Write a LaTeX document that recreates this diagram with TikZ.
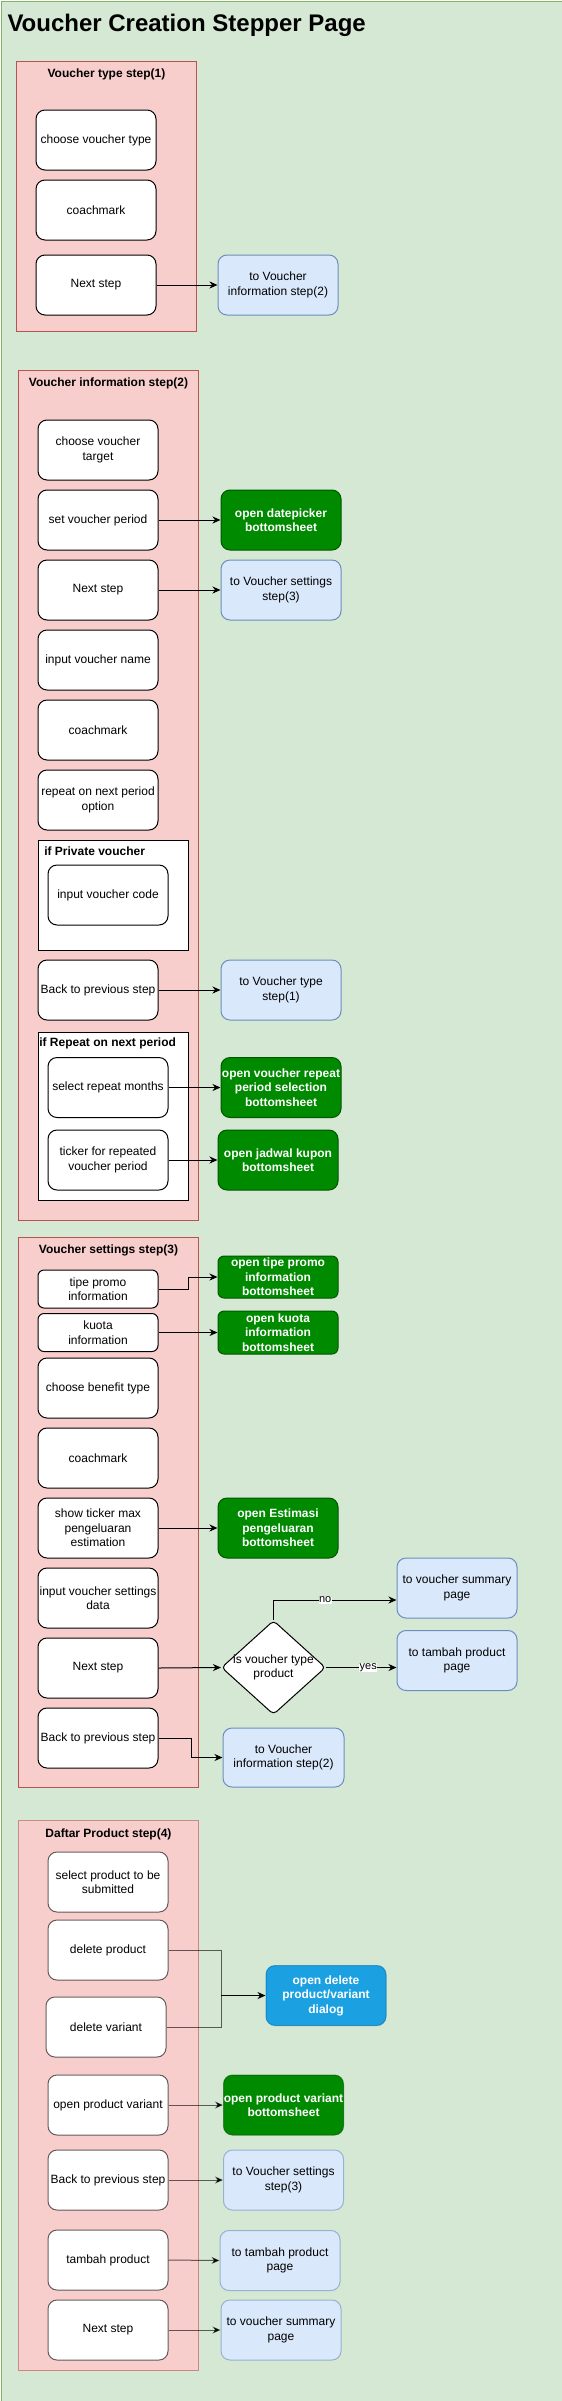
\documentclass[tikz,border=0pt]{standalone}
\usepackage{fontspec}
\setmainfont{Liberation Sans}
\usetikzlibrary{arrows.meta,shapes.geometric}
\definecolor{bggreen}{HTML}{D5E8D4}
\definecolor{bgline}{HTML}{82B366}
\definecolor{pinkfill}{HTML}{F8CECC}
\definecolor{pinkline}{HTML}{B85450}
\definecolor{bluefill}{HTML}{DAE8FC}
\definecolor{blueline}{HTML}{6C8EBF}
\definecolor{gfill}{HTML}{008A00}
\definecolor{gline}{HTML}{005700}
\definecolor{dfill}{HTML}{1BA1E2}
\definecolor{dline}{HTML}{006EAF}
\begin{document}
\begin{tikzpicture}[x=1pt,y=-1pt,line width=1pt,
  base/.style={rectangle,rounded corners=9pt,minimum width=120pt,minimum height=60pt,inner sep=0pt,align=center,font=\fontsize{12}{14.4}\selectfont},
  wbox/.style={base,draw=black,fill=white},
  bbox/.style={base,draw=blueline,fill=bluefill},
  gbox/.style={base,draw=gline,fill=gfill,text=white,font=\fontsize{12}{14.4}\selectfont\bfseries},
  dbox/.style={base,draw=dline,fill=dfill,text=white,font=\fontsize{12}{14.4}\selectfont\bfseries},
  pinkbox/.style={rectangle,draw=pinkline,fill=pinkfill,minimum width=180pt,anchor=north west,inner sep=0pt},
  frame/.style={rectangle,draw=black,fill=white,minimum width=150pt,anchor=north west,inner sep=0pt},
  steptitle/.style={font=\fontsize{12}{14.4}\selectfont\bfseries,inner sep=0pt},
  frametitle/.style={font=\fontsize{12}{14.4}\selectfont\bfseries,inner sep=0pt,anchor=west},
  arr/.style={-{Stealth[length=8pt,width=7pt,inset=2.5pt]}},
  elabel/.style={fill=white,inner sep=0.5pt,font=\fontsize{11}{13}\selectfont},
  sfour/.style={draw opacity=0.6},
]
\useasboundingbox (0,0) rectangle (562,2401);
\node[rectangle,draw=bgline,fill=bggreen,minimum width=561pt,minimum height=2400pt,anchor=north west,inner sep=0pt] (page) at (0.5,0.5) {};
\node[anchor=base west,inner sep=0pt,font=\fontsize{24}{28}\selectfont\bfseries] (title) at (7,31.7) {Voucher Creation Stepper Page};

% ---------- step 1 ----------
\node[pinkbox,minimum height=270pt] (s1) at (16,61) {};
\node[steptitle] (s1t) at (106.5,74) {Voucher type step(1)};
\node[wbox] (v1a) at (96,140) {choose voucher type};
\node[wbox] (v1b) at (96,210) {coachmark};
\node[wbox] (v1c) at (96,285) {Next step};
\node[bbox] (b1c) at (278,285) {to Voucher\\information step(2)};
\draw[arr] (v1c.east) -- (b1c.west);

% ---------- step 2 ----------
\node[pinkbox,minimum height=850pt] (s2) at (18,370) {};
\node[steptitle] (s2t) at (108.5,383.7) {Voucher information step(2)};
\node[wbox] (v2a) at (98,450) {choose voucher\\target};
\node[wbox] (v2b) at (98,520) {set voucher period};
\node[gbox] (g2b) at (281,520) {open datepicker\\bottomsheet};
\node[wbox] (v2c) at (98,590) {Next step};
\node[bbox] (b2c) at (281,590) {to Voucher settings\\step(3)};
\node[wbox] (v2d) at (98,660) {input voucher name};
\node[wbox] (v2e) at (98,730) {coachmark};
\node[wbox] (v2f) at (98,800) {repeat on next period\\option};
\node[frame,minimum height=110pt] (fpriv) at (38,840) {};
\node[frametitle] (fprivt) at (43.8,851.7) {if Private voucher};
\node[wbox] (v2g) at (108,895) {input voucher code};
\node[wbox] (v2h) at (98,990) {Back to previous step};
\node[bbox] (b2h) at (281,990) {to Voucher type\\step(1)};
\node[frame,minimum height=168pt] (frep) at (38,1032) {};
\node[frametitle] (frept) at (38.8,1043.7) {if Repeat on next period};
\node[wbox] (v2i) at (108,1087.5) {select repeat months};
\node[gbox] (g2i) at (281,1087.5) {open voucher repeat\\period selection\\bottomsheet};
\node[wbox] (v2j) at (108,1160) {ticker for repeated\\voucher period};
\node[gbox] (g2j) at (278,1160) {open jadwal kupon\\bottomsheet};
\draw[arr] (v2b.east) -- (g2b.west);
\draw[arr] (v2c.east) -- (b2c.west);
\draw[arr] (v2h.east) -- (b2h.west);
\draw[arr] (v2i.east) -- (g2i.west);
\draw[arr] (v2j.east) -- (g2j.west);

% ---------- step 3 ----------
\node[pinkbox,minimum height=550pt] (s3) at (18,1237) {};
\node[steptitle] (s3t) at (108.5,1250.6) {Voucher settings step(3)};
\node[wbox,minimum height=38pt,rounded corners=6pt] (v3a) at (98,1289) {tipe promo\\information};
\node[gbox,minimum height=42pt,rounded corners=6pt] (g3a) at (278,1277) {open tipe promo\\information\\bottomsheet};
\node[wbox,minimum height=38pt,rounded corners=6pt] (v3b) at (98,1332.5) {kuota\\information};
\node[gbox,minimum height=43pt,rounded corners=6pt] (g3b) at (278,1332.5) {open kuota\\information\\bottomsheet};
\node[wbox] (v3c) at (98,1388) {choose benefit type};
\node[wbox] (v3d) at (98,1458) {coachmark};
\node[wbox] (v3e) at (98,1528) {show ticker max\\pengeluaran\\estimation};
\node[gbox] (g3e) at (278,1528) {open Estimasi\\pengeluaran\\bottomsheet};
\node[wbox] (v3f) at (98,1598) {input voucher settings\\data};
\node[wbox] (v3g) at (98,1668) {Next step};
\node[diamond,draw=black,fill=white,minimum width=104pt,minimum height=94pt,inner sep=0pt,rounded corners=4pt] (dec) at (273.5,1667.5) {};
\node[align=center,inner sep=0pt,font=\fontsize{12}{14.4}\selectfont] (dect) at (dec.center) {is voucher type\\product};
\node[bbox] (bsum) at (457,1588) {to voucher summary\\page};
\node[bbox] (btam) at (457,1660.5) {to tambah product\\page};
\node[wbox] (v3h) at (98,1738) {Back to previous step};
\node[bbox,minimum width=121pt,minimum height=59pt] (b3h) at (283.5,1757.5) {to Voucher\\information step(2)};
\draw[arr] (v3a.east) -- ++(30,0) |- (g3a.west);
\draw[arr] (v3b.east) -- (g3b.west);
\draw[arr] (v3e.east) -- (g3e.west);
\draw[arr] (v3g.east) -- (dec.west);
\draw[arr] (dec.north) |- node[elabel,pos=0.71] {no} ([yshift=-12pt]bsum.west);
\draw[arr] (dec.east) -- node[elabel,pos=0.6] {yes} (dec.east -| btam.west);
\draw[arr] (v3h.east) -- ++(32.7,0) |- (b3h.west);

% ---------- step 4 ----------
\node[pinkbox,sfour,minimum height=550pt] (s4) at (18,1820) {};
\node[steptitle] (s4t) at (108.5,1834) {Daftar Product step(4)};
\node[wbox,sfour] (v4a) at (108,1882) {select product to be\\submitted};
\node[wbox,sfour] (v4b) at (108,1950) {delete product};
\node[wbox,sfour] (v4c) at (106,2027) {delete variant};
\node[dbox,sfour] (d4) at (326,1995.5) {open delete\\product/variant\\dialog};
\node[wbox,sfour] (v4d) at (108,2105) {open product variant};
\node[gbox,sfour] (g4d) at (283.5,2105) {open product variant\\bottomsheet};
\node[wbox,sfour] (v4e) at (108,2180) {Back to previous step};
\node[bbox,sfour] (b4e) at (283.5,2180) {to Voucher settings\\step(3)};
\node[wbox,sfour] (v4f) at (108,2260) {tambah product};
\node[bbox,sfour] (b4f) at (280,2260.5) {to tambah product\\page};
\node[wbox,sfour] (v4g) at (108,2330) {Next step};
\node[bbox,sfour] (b4g) at (281,2330) {to voucher summary\\page};
\coordinate (j4) at (221,1995.5);
\draw[sfour] (v4b.east) -| (j4);
\draw[sfour] (v4c.east) -| (j4);
\draw[arr] (j4) -- (d4.west);
\draw[arr,sfour] (v4d.east) -- (g4d.west);
\draw[arr,sfour] (v4e.east) -- (b4e.west);
\draw[arr,sfour] (v4f.east) -- (b4f.west);
\draw[arr,sfour] (v4g.east) -- (b4g.west);
\end{tikzpicture}
\end{document}
